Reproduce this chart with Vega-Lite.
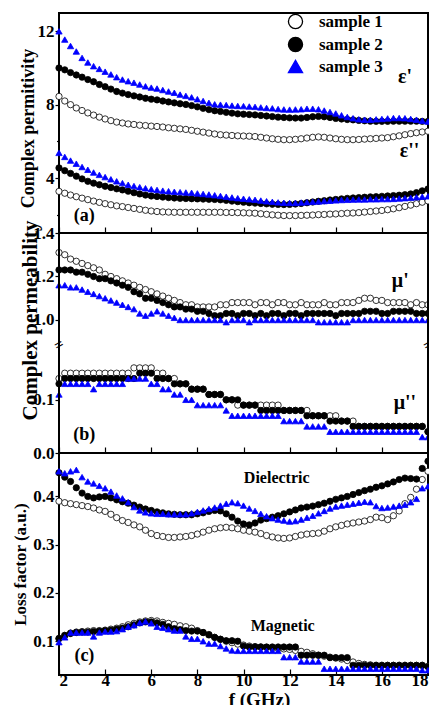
{
"$schema": "https://vega.github.io/schema/vega-lite/v6.json",
"background": "white",
"padding": {"left": 10, "top": 12, "right": 4, "bottom": 0},
"spacing": 0,
"bounds": "flush",
"config": {
  "font": "Liberation Serif",
  "concat": {"spacing": 0},
  "view": {"stroke": "black", "strokeWidth": 2},
  "axis": {"labelFont": "Liberation Serif", "labelFontWeight": "bold", "labelFontSize": 17, "labelColor": "black", "titleFont": "Liberation Serif", "titleFontWeight": "bold", "titleColor": "black", "domainColor": "black", "domainWidth": 2, "tickColor": "black", "tickWidth": 1.2, "grid": false, "labelOverlap": false},
  "text": {"font": "Liberation Serif", "fontWeight": "bold", "color": "black"}
},
"datasets": {
"a": [
{"f":2,"s":1,"v":8.45},{"f":2.25,"s":1,"v":8.2},{"f":2.5,"s":1,"v":8.0},{"f":2.75,"s":1,"v":7.82},{"f":3,"s":1,"v":7.68},{"f":3.25,"s":1,"v":7.55},{"f":3.5,"s":1,"v":7.43},{"f":3.75,"s":1,"v":7.32},{"f":4,"s":1,"v":7.22},{"f":4.25,"s":1,"v":7.13},{"f":4.5,"s":1,"v":7.05},{"f":4.75,"s":1,"v":7.0},{"f":5,"s":1,"v":6.95},{"f":5.25,"s":1,"v":6.92},{"f":5.5,"s":1,"v":6.88},{"f":5.75,"s":1,"v":6.86},{"f":6,"s":1,"v":6.83},{"f":6.25,"s":1,"v":6.81},{"f":6.5,"s":1,"v":6.78},{"f":6.75,"s":1,"v":6.74},{"f":7,"s":1,"v":6.71},{"f":7.25,"s":1,"v":6.68},{"f":7.5,"s":1,"v":6.65},{"f":7.75,"s":1,"v":6.6},{"f":8,"s":1,"v":6.55},{"f":8.25,"s":1,"v":6.5},{"f":8.5,"s":1,"v":6.45},{"f":8.75,"s":1,"v":6.4},{"f":9,"s":1,"v":6.36},{"f":9.25,"s":1,"v":6.34},{"f":9.5,"s":1,"v":6.32},{"f":9.75,"s":1,"v":6.3},{"f":10,"s":1,"v":6.29},{"f":10.25,"s":1,"v":6.28},{"f":10.5,"s":1,"v":6.26},{"f":10.75,"s":1,"v":6.22},{"f":11,"s":1,"v":6.18},{"f":11.25,"s":1,"v":6.14},{"f":11.5,"s":1,"v":6.11},{"f":11.75,"s":1,"v":6.09},{"f":12,"s":1,"v":6.09},{"f":12.25,"s":1,"v":6.11},{"f":12.5,"s":1,"v":6.14},{"f":12.75,"s":1,"v":6.18},{"f":13,"s":1,"v":6.22},{"f":13.25,"s":1,"v":6.24},{"f":13.5,"s":1,"v":6.22},{"f":13.75,"s":1,"v":6.18},{"f":14,"s":1,"v":6.14},{"f":14.25,"s":1,"v":6.11},{"f":14.5,"s":1,"v":6.09},{"f":14.75,"s":1,"v":6.09},{"f":15,"s":1,"v":6.1},{"f":15.25,"s":1,"v":6.12},{"f":15.5,"s":1,"v":6.14},{"f":15.75,"s":1,"v":6.16},{"f":16,"s":1,"v":6.18},{"f":16.25,"s":1,"v":6.2},{"f":16.5,"s":1,"v":6.25},{"f":16.75,"s":1,"v":6.3},{"f":17,"s":1,"v":6.36},{"f":17.25,"s":1,"v":6.42},{"f":17.5,"s":1,"v":6.47},{"f":17.75,"s":1,"v":6.51},{"f":18,"s":1,"v":6.55},
{"f":2,"s":1,"v":3.27},{"f":2.25,"s":1,"v":3.17},{"f":2.5,"s":1,"v":3.07},{"f":2.75,"s":1,"v":2.98},{"f":3,"s":1,"v":2.9},{"f":3.25,"s":1,"v":2.82},{"f":3.5,"s":1,"v":2.74},{"f":3.75,"s":1,"v":2.67},{"f":4,"s":1,"v":2.6},{"f":4.25,"s":1,"v":2.54},{"f":4.5,"s":1,"v":2.48},{"f":4.75,"s":1,"v":2.44},{"f":5,"s":1,"v":2.39},{"f":5.25,"s":1,"v":2.34},{"f":5.5,"s":1,"v":2.29},{"f":5.75,"s":1,"v":2.24},{"f":6,"s":1,"v":2.2},{"f":6.25,"s":1,"v":2.17},{"f":6.5,"s":1,"v":2.15},{"f":6.75,"s":1,"v":2.14},{"f":7,"s":1,"v":2.13},{"f":7.25,"s":1,"v":2.13},{"f":7.5,"s":1,"v":2.13},{"f":7.75,"s":1,"v":2.13},{"f":8,"s":1,"v":2.13},{"f":8.25,"s":1,"v":2.13},{"f":8.5,"s":1,"v":2.13},{"f":8.75,"s":1,"v":2.13},{"f":9,"s":1,"v":2.13},{"f":9.25,"s":1,"v":2.12},{"f":9.5,"s":1,"v":2.12},{"f":9.75,"s":1,"v":2.11},{"f":10,"s":1,"v":2.1},{"f":10.25,"s":1,"v":2.09},{"f":10.5,"s":1,"v":2.08},{"f":10.75,"s":1,"v":2.05},{"f":11,"s":1,"v":2.02},{"f":11.25,"s":1,"v":1.99},{"f":11.5,"s":1,"v":1.97},{"f":11.75,"s":1,"v":1.95},{"f":12,"s":1,"v":1.95},{"f":12.25,"s":1,"v":1.95},{"f":12.5,"s":1,"v":1.96},{"f":12.75,"s":1,"v":1.97},{"f":13,"s":1,"v":1.98},{"f":13.25,"s":1,"v":2.0},{"f":13.5,"s":1,"v":2.01},{"f":13.75,"s":1,"v":2.03},{"f":14,"s":1,"v":2.04},{"f":14.25,"s":1,"v":2.06},{"f":14.5,"s":1,"v":2.08},{"f":14.75,"s":1,"v":2.09},{"f":15,"s":1,"v":2.11},{"f":15.25,"s":1,"v":2.14},{"f":15.5,"s":1,"v":2.17},{"f":15.75,"s":1,"v":2.2},{"f":16,"s":1,"v":2.23},{"f":16.25,"s":1,"v":2.27},{"f":16.5,"s":1,"v":2.32},{"f":16.75,"s":1,"v":2.38},{"f":17,"s":1,"v":2.45},{"f":17.25,"s":1,"v":2.52},{"f":17.5,"s":1,"v":2.6},{"f":17.75,"s":1,"v":2.68},{"f":18,"s":1,"v":2.75},
{"f":2,"s":2,"v":10.0},{"f":2.25,"s":2,"v":9.9},{"f":2.5,"s":2,"v":9.75},{"f":2.75,"s":2,"v":9.62},{"f":3,"s":2,"v":9.5},{"f":3.25,"s":2,"v":9.37},{"f":3.5,"s":2,"v":9.25},{"f":3.75,"s":2,"v":9.1},{"f":4,"s":2,"v":8.98},{"f":4.25,"s":2,"v":8.85},{"f":4.5,"s":2,"v":8.72},{"f":4.75,"s":2,"v":8.63},{"f":5,"s":2,"v":8.55},{"f":5.25,"s":2,"v":8.48},{"f":5.5,"s":2,"v":8.42},{"f":5.75,"s":2,"v":8.35},{"f":6,"s":2,"v":8.3},{"f":6.25,"s":2,"v":8.26},{"f":6.5,"s":2,"v":8.2},{"f":6.75,"s":2,"v":8.15},{"f":7,"s":2,"v":8.1},{"f":7.25,"s":2,"v":8.05},{"f":7.5,"s":2,"v":8.01},{"f":7.75,"s":2,"v":7.95},{"f":8,"s":2,"v":7.88},{"f":8.25,"s":2,"v":7.8},{"f":8.5,"s":2,"v":7.73},{"f":8.75,"s":2,"v":7.67},{"f":9,"s":2,"v":7.63},{"f":9.25,"s":2,"v":7.58},{"f":9.5,"s":2,"v":7.54},{"f":9.75,"s":2,"v":7.5},{"f":10,"s":2,"v":7.48},{"f":10.25,"s":2,"v":7.46},{"f":10.5,"s":2,"v":7.44},{"f":10.75,"s":2,"v":7.41},{"f":11,"s":2,"v":7.38},{"f":11.25,"s":2,"v":7.35},{"f":11.5,"s":2,"v":7.32},{"f":11.75,"s":2,"v":7.3},{"f":12,"s":2,"v":7.28},{"f":12.25,"s":2,"v":7.27},{"f":12.5,"s":2,"v":7.27},{"f":12.75,"s":2,"v":7.3},{"f":13,"s":2,"v":7.34},{"f":13.25,"s":2,"v":7.36},{"f":13.5,"s":2,"v":7.34},{"f":13.75,"s":2,"v":7.3},{"f":14,"s":2,"v":7.25},{"f":14.25,"s":2,"v":7.22},{"f":14.5,"s":2,"v":7.19},{"f":14.75,"s":2,"v":7.17},{"f":15,"s":2,"v":7.14},{"f":15.25,"s":2,"v":7.12},{"f":15.5,"s":2,"v":7.1},{"f":15.75,"s":2,"v":7.09},{"f":16,"s":2,"v":7.09},{"f":16.25,"s":2,"v":7.09},{"f":16.5,"s":2,"v":7.1},{"f":16.75,"s":2,"v":7.1},{"f":17,"s":2,"v":7.1},{"f":17.25,"s":2,"v":7.1},{"f":17.5,"s":2,"v":7.1},{"f":17.75,"s":2,"v":7.09},{"f":18,"s":2,"v":7.09},
{"f":2,"s":2,"v":4.55},{"f":2.25,"s":2,"v":4.4},{"f":2.5,"s":2,"v":4.25},{"f":2.75,"s":2,"v":4.1},{"f":3,"s":2,"v":3.95},{"f":3.25,"s":2,"v":3.82},{"f":3.5,"s":2,"v":3.72},{"f":3.75,"s":2,"v":3.63},{"f":4,"s":2,"v":3.55},{"f":4.25,"s":2,"v":3.48},{"f":4.5,"s":2,"v":3.41},{"f":4.75,"s":2,"v":3.35},{"f":5,"s":2,"v":3.28},{"f":5.25,"s":2,"v":3.2},{"f":5.5,"s":2,"v":3.13},{"f":5.75,"s":2,"v":3.07},{"f":6,"s":2,"v":3.02},{"f":6.25,"s":2,"v":2.99},{"f":6.5,"s":2,"v":2.96},{"f":6.75,"s":2,"v":2.93},{"f":7,"s":2,"v":2.91},{"f":7.25,"s":2,"v":2.89},{"f":7.5,"s":2,"v":2.88},{"f":7.75,"s":2,"v":2.87},{"f":8,"s":2,"v":2.86},{"f":8.25,"s":2,"v":2.85},{"f":8.5,"s":2,"v":2.84},{"f":8.75,"s":2,"v":2.83},{"f":9,"s":2,"v":2.81},{"f":9.25,"s":2,"v":2.78},{"f":9.5,"s":2,"v":2.74},{"f":9.75,"s":2,"v":2.71},{"f":10,"s":2,"v":2.68},{"f":10.25,"s":2,"v":2.65},{"f":10.5,"s":2,"v":2.63},{"f":10.75,"s":2,"v":2.61},{"f":11,"s":2,"v":2.59},{"f":11.25,"s":2,"v":2.57},{"f":11.5,"s":2,"v":2.56},{"f":11.75,"s":2,"v":2.55},{"f":12,"s":2,"v":2.56},{"f":12.25,"s":2,"v":2.58},{"f":12.5,"s":2,"v":2.61},{"f":12.75,"s":2,"v":2.65},{"f":13,"s":2,"v":2.69},{"f":13.25,"s":2,"v":2.73},{"f":13.5,"s":2,"v":2.76},{"f":13.75,"s":2,"v":2.8},{"f":14,"s":2,"v":2.83},{"f":14.25,"s":2,"v":2.86},{"f":14.5,"s":2,"v":2.89},{"f":14.75,"s":2,"v":2.91},{"f":15,"s":2,"v":2.93},{"f":15.25,"s":2,"v":2.95},{"f":15.5,"s":2,"v":2.97},{"f":15.75,"s":2,"v":2.98},{"f":16,"s":2,"v":3.0},{"f":16.25,"s":2,"v":3.02},{"f":16.5,"s":2,"v":3.04},{"f":16.75,"s":2,"v":3.06},{"f":17,"s":2,"v":3.09},{"f":17.25,"s":2,"v":3.13},{"f":17.5,"s":2,"v":3.2},{"f":17.75,"s":2,"v":3.3},{"f":18,"s":2,"v":3.4},
{"f":2,"s":3,"v":12.0},{"f":2.25,"s":3,"v":11.55},{"f":2.5,"s":3,"v":11.2},{"f":2.75,"s":3,"v":10.9},{"f":3,"s":3,"v":10.55},{"f":3.25,"s":3,"v":10.3},{"f":3.5,"s":3,"v":10.1},{"f":3.75,"s":3,"v":9.95},{"f":4,"s":3,"v":9.8},{"f":4.25,"s":3,"v":9.65},{"f":4.5,"s":3,"v":9.5},{"f":4.75,"s":3,"v":9.37},{"f":5,"s":3,"v":9.28},{"f":5.25,"s":3,"v":9.2},{"f":5.5,"s":3,"v":9.1},{"f":5.75,"s":3,"v":9.0},{"f":6,"s":3,"v":8.93},{"f":6.25,"s":3,"v":8.88},{"f":6.5,"s":3,"v":8.8},{"f":6.75,"s":3,"v":8.72},{"f":7,"s":3,"v":8.65},{"f":7.25,"s":3,"v":8.55},{"f":7.5,"s":3,"v":8.48},{"f":7.75,"s":3,"v":8.4},{"f":8,"s":3,"v":8.3},{"f":8.25,"s":3,"v":8.2},{"f":8.5,"s":3,"v":8.1},{"f":8.75,"s":3,"v":8.02},{"f":9,"s":3,"v":8.0},{"f":9.25,"s":3,"v":7.98},{"f":9.5,"s":3,"v":7.95},{"f":9.75,"s":3,"v":7.93},{"f":10,"s":3,"v":7.92},{"f":10.25,"s":3,"v":7.9},{"f":10.5,"s":3,"v":7.88},{"f":10.75,"s":3,"v":7.85},{"f":11,"s":3,"v":7.82},{"f":11.25,"s":3,"v":7.8},{"f":11.5,"s":3,"v":7.76},{"f":11.75,"s":3,"v":7.74},{"f":12,"s":3,"v":7.73},{"f":12.25,"s":3,"v":7.74},{"f":12.5,"s":3,"v":7.75},{"f":12.75,"s":3,"v":7.78},{"f":13,"s":3,"v":7.78},{"f":13.25,"s":3,"v":7.75},{"f":13.5,"s":3,"v":7.68},{"f":13.75,"s":3,"v":7.6},{"f":14,"s":3,"v":7.52},{"f":14.25,"s":3,"v":7.42},{"f":14.5,"s":3,"v":7.33},{"f":14.75,"s":3,"v":7.26},{"f":15,"s":3,"v":7.2},{"f":15.25,"s":3,"v":7.18},{"f":15.5,"s":3,"v":7.18},{"f":15.75,"s":3,"v":7.2},{"f":16,"s":3,"v":7.22},{"f":16.25,"s":3,"v":7.25},{"f":16.5,"s":3,"v":7.27},{"f":16.75,"s":3,"v":7.27},{"f":17,"s":3,"v":7.26},{"f":17.25,"s":3,"v":7.22},{"f":17.5,"s":3,"v":7.18},{"f":17.75,"s":3,"v":7.12},{"f":18,"s":3,"v":7.08},
{"f":2,"s":3,"v":5.37},{"f":2.25,"s":3,"v":5.15},{"f":2.5,"s":3,"v":4.95},{"f":2.75,"s":3,"v":4.78},{"f":3,"s":3,"v":4.6},{"f":3.25,"s":3,"v":4.45},{"f":3.5,"s":3,"v":4.3},{"f":3.75,"s":3,"v":4.17},{"f":4,"s":3,"v":4.05},{"f":4.25,"s":3,"v":3.93},{"f":4.5,"s":3,"v":3.82},{"f":4.75,"s":3,"v":3.72},{"f":5,"s":3,"v":3.63},{"f":5.25,"s":3,"v":3.56},{"f":5.5,"s":3,"v":3.5},{"f":5.75,"s":3,"v":3.44},{"f":6,"s":3,"v":3.39},{"f":6.25,"s":3,"v":3.35},{"f":6.5,"s":3,"v":3.31},{"f":6.75,"s":3,"v":3.28},{"f":7,"s":3,"v":3.25},{"f":7.25,"s":3,"v":3.23},{"f":7.5,"s":3,"v":3.21},{"f":7.75,"s":3,"v":3.19},{"f":8,"s":3,"v":3.16},{"f":8.25,"s":3,"v":3.13},{"f":8.5,"s":3,"v":3.1},{"f":8.75,"s":3,"v":3.06},{"f":9,"s":3,"v":3.02},{"f":9.25,"s":3,"v":2.98},{"f":9.5,"s":3,"v":2.94},{"f":9.75,"s":3,"v":2.9},{"f":10,"s":3,"v":2.87},{"f":10.25,"s":3,"v":2.84},{"f":10.5,"s":3,"v":2.81},{"f":10.75,"s":3,"v":2.77},{"f":11,"s":3,"v":2.73},{"f":11.25,"s":3,"v":2.7},{"f":11.5,"s":3,"v":2.67},{"f":11.75,"s":3,"v":2.65},{"f":12,"s":3,"v":2.64},{"f":12.25,"s":3,"v":2.64},{"f":12.5,"s":3,"v":2.66},{"f":12.75,"s":3,"v":2.68},{"f":13,"s":3,"v":2.7},{"f":13.25,"s":3,"v":2.72},{"f":13.5,"s":3,"v":2.74},{"f":13.75,"s":3,"v":2.76},{"f":14,"s":3,"v":2.78},{"f":14.25,"s":3,"v":2.8},{"f":14.5,"s":3,"v":2.81},{"f":14.75,"s":3,"v":2.82},{"f":15,"s":3,"v":2.83},{"f":15.25,"s":3,"v":2.83},{"f":15.5,"s":3,"v":2.84},{"f":15.75,"s":3,"v":2.84},{"f":16,"s":3,"v":2.85},{"f":16.25,"s":3,"v":2.85},{"f":16.5,"s":3,"v":2.86},{"f":16.75,"s":3,"v":2.88},{"f":17,"s":3,"v":2.9},{"f":17.25,"s":3,"v":2.92},{"f":17.5,"s":3,"v":2.95},{"f":17.75,"s":3,"v":2.98},{"f":18,"s":3,"v":3.0}
],
"b1": [
{"f":2,"s":1,"v":1.31},{"f":2.25,"s":1,"v":1.3},{"f":2.5,"s":1,"v":1.28},{"f":2.75,"s":1,"v":1.27},{"f":3,"s":1,"v":1.26},{"f":3.25,"s":1,"v":1.25},{"f":3.5,"s":1,"v":1.24},{"f":3.75,"s":1,"v":1.23},{"f":4,"s":1,"v":1.21},{"f":4.25,"s":1,"v":1.2},{"f":4.5,"s":1,"v":1.19},{"f":4.75,"s":1,"v":1.18},{"f":5,"s":1,"v":1.17},{"f":5.25,"s":1,"v":1.16},{"f":5.5,"s":1,"v":1.15},{"f":5.75,"s":1,"v":1.14},{"f":6,"s":1,"v":1.13},{"f":6.25,"s":1,"v":1.12},{"f":6.5,"s":1,"v":1.11},{"f":6.75,"s":1,"v":1.1},{"f":7,"s":1,"v":1.09},{"f":7.25,"s":1,"v":1.08},{"f":7.5,"s":1,"v":1.07},{"f":7.75,"s":1,"v":1.07},{"f":8,"s":1,"v":1.06},{"f":8.25,"s":1,"v":1.06},{"f":8.5,"s":1,"v":1.06},{"f":8.75,"s":1,"v":1.06},{"f":9,"s":1,"v":1.07},{"f":9.25,"s":1,"v":1.07},{"f":9.5,"s":1,"v":1.08},{"f":9.75,"s":1,"v":1.08},{"f":10,"s":1,"v":1.08},{"f":10.25,"s":1,"v":1.08},{"f":10.5,"s":1,"v":1.07},{"f":10.75,"s":1,"v":1.08},{"f":11,"s":1,"v":1.08},{"f":11.25,"s":1,"v":1.07},{"f":11.5,"s":1,"v":1.08},{"f":11.75,"s":1,"v":1.08},{"f":12,"s":1,"v":1.07},{"f":12.25,"s":1,"v":1.07},{"f":12.5,"s":1,"v":1.08},{"f":12.75,"s":1,"v":1.07},{"f":13,"s":1,"v":1.07},{"f":13.25,"s":1,"v":1.07},{"f":13.5,"s":1,"v":1.08},{"f":13.75,"s":1,"v":1.07},{"f":14,"s":1,"v":1.07},{"f":14.25,"s":1,"v":1.08},{"f":14.5,"s":1,"v":1.08},{"f":14.75,"s":1,"v":1.08},{"f":15,"s":1,"v":1.09},{"f":15.25,"s":1,"v":1.1},{"f":15.5,"s":1,"v":1.1},{"f":15.75,"s":1,"v":1.09},{"f":16,"s":1,"v":1.09},{"f":16.25,"s":1,"v":1.08},{"f":16.5,"s":1,"v":1.08},{"f":16.75,"s":1,"v":1.08},{"f":17,"s":1,"v":1.08},{"f":17.25,"s":1,"v":1.07},{"f":17.5,"s":1,"v":1.08},{"f":17.75,"s":1,"v":1.07},{"f":18,"s":1,"v":1.07},
{"f":2,"s":2,"v":1.23},{"f":2.25,"s":2,"v":1.23},{"f":2.5,"s":2,"v":1.23},{"f":2.75,"s":2,"v":1.22},{"f":3,"s":2,"v":1.22},{"f":3.25,"s":2,"v":1.21},{"f":3.5,"s":2,"v":1.2},{"f":3.75,"s":2,"v":1.19},{"f":4,"s":2,"v":1.19},{"f":4.25,"s":2,"v":1.18},{"f":4.5,"s":2,"v":1.17},{"f":4.75,"s":2,"v":1.16},{"f":5,"s":2,"v":1.15},{"f":5.25,"s":2,"v":1.13},{"f":5.5,"s":2,"v":1.12},{"f":5.75,"s":2,"v":1.1},{"f":6,"s":2,"v":1.1},{"f":6.25,"s":2,"v":1.09},{"f":6.5,"s":2,"v":1.08},{"f":6.75,"s":2,"v":1.07},{"f":7,"s":2,"v":1.06},{"f":7.25,"s":2,"v":1.06},{"f":7.5,"s":2,"v":1.05},{"f":7.75,"s":2,"v":1.05},{"f":8,"s":2,"v":1.04},{"f":8.25,"s":2,"v":1.04},{"f":8.5,"s":2,"v":1.03},{"f":8.75,"s":2,"v":1.02},{"f":9,"s":2,"v":1.02},{"f":9.25,"s":2,"v":1.03},{"f":9.5,"s":2,"v":1.03},{"f":9.75,"s":2,"v":1.02},{"f":10,"s":2,"v":1.03},{"f":10.25,"s":2,"v":1.03},{"f":10.5,"s":2,"v":1.02},{"f":10.75,"s":2,"v":1.03},{"f":11,"s":2,"v":1.02},{"f":11.25,"s":2,"v":1.03},{"f":11.5,"s":2,"v":1.03},{"f":11.75,"s":2,"v":1.02},{"f":12,"s":2,"v":1.03},{"f":12.25,"s":2,"v":1.03},{"f":12.5,"s":2,"v":1.02},{"f":12.75,"s":2,"v":1.03},{"f":13,"s":2,"v":1.03},{"f":13.25,"s":2,"v":1.03},{"f":13.5,"s":2,"v":1.03},{"f":13.75,"s":2,"v":1.03},{"f":14,"s":2,"v":1.02},{"f":14.25,"s":2,"v":1.03},{"f":14.5,"s":2,"v":1.03},{"f":14.75,"s":2,"v":1.03},{"f":15,"s":2,"v":1.03},{"f":15.25,"s":2,"v":1.04},{"f":15.5,"s":2,"v":1.04},{"f":15.75,"s":2,"v":1.04},{"f":16,"s":2,"v":1.03},{"f":16.25,"s":2,"v":1.03},{"f":16.5,"s":2,"v":1.04},{"f":16.75,"s":2,"v":1.04},{"f":17,"s":2,"v":1.04},{"f":17.25,"s":2,"v":1.04},{"f":17.5,"s":2,"v":1.03},{"f":17.75,"s":2,"v":1.03},{"f":18,"s":2,"v":1.03},
{"f":2,"s":3,"v":1.16},{"f":2.25,"s":3,"v":1.16},{"f":2.5,"s":3,"v":1.15},{"f":2.75,"s":3,"v":1.15},{"f":3,"s":3,"v":1.14},{"f":3.25,"s":3,"v":1.13},{"f":3.5,"s":3,"v":1.12},{"f":3.75,"s":3,"v":1.11},{"f":4,"s":3,"v":1.1},{"f":4.25,"s":3,"v":1.09},{"f":4.5,"s":3,"v":1.08},{"f":4.75,"s":3,"v":1.07},{"f":5,"s":3,"v":1.06},{"f":5.25,"s":3,"v":1.05},{"f":5.5,"s":3,"v":1.03},{"f":5.75,"s":3,"v":1.02},{"f":6,"s":3,"v":1.03},{"f":6.25,"s":3,"v":1.04},{"f":6.5,"s":3,"v":1.03},{"f":6.75,"s":3,"v":1.02},{"f":7,"s":3,"v":1.01},{"f":7.25,"s":3,"v":1.0},{"f":7.5,"s":3,"v":1.0},{"f":7.75,"s":3,"v":1.0},{"f":8,"s":3,"v":1.0},{"f":8.25,"s":3,"v":1.0},{"f":8.5,"s":3,"v":1.0},{"f":8.75,"s":3,"v":1.0},{"f":9,"s":3,"v":1.0},{"f":9.25,"s":3,"v":0.99},{"f":9.5,"s":3,"v":1.0},{"f":9.75,"s":3,"v":1.0},{"f":10,"s":3,"v":1.0},{"f":10.25,"s":3,"v":0.99},{"f":10.5,"s":3,"v":1.0},{"f":10.75,"s":3,"v":1.0},{"f":11,"s":3,"v":1.0},{"f":11.25,"s":3,"v":1.0},{"f":11.5,"s":3,"v":1.0},{"f":11.75,"s":3,"v":1.0},{"f":12,"s":3,"v":1.0},{"f":12.25,"s":3,"v":1.0},{"f":12.5,"s":3,"v":1.0},{"f":12.75,"s":3,"v":1.0},{"f":13,"s":3,"v":1.0},{"f":13.25,"s":3,"v":0.99},{"f":13.5,"s":3,"v":0.99},{"f":13.75,"s":3,"v":0.99},{"f":14,"s":3,"v":0.99},{"f":14.25,"s":3,"v":0.99},{"f":14.5,"s":3,"v":0.99},{"f":14.75,"s":3,"v":1.0},{"f":15,"s":3,"v":1.0},{"f":15.25,"s":3,"v":1.0},{"f":15.5,"s":3,"v":1.0},{"f":15.75,"s":3,"v":1.0},{"f":16,"s":3,"v":1.0},{"f":16.25,"s":3,"v":1.0},{"f":16.5,"s":3,"v":1.0},{"f":16.75,"s":3,"v":1.0},{"f":17,"s":3,"v":1.0},{"f":17.25,"s":3,"v":1.0},{"f":17.5,"s":3,"v":1.0},{"f":17.75,"s":3,"v":1.0},{"f":18,"s":3,"v":1.0}
],
"b2": [
{"f":2,"s":1,"v":0.14},{"f":2.25,"s":1,"v":0.15},{"f":2.5,"s":1,"v":0.15},{"f":2.75,"s":1,"v":0.15},{"f":3,"s":1,"v":0.15},{"f":3.25,"s":1,"v":0.15},{"f":3.5,"s":1,"v":0.15},{"f":3.75,"s":1,"v":0.15},{"f":4,"s":1,"v":0.15},{"f":4.25,"s":1,"v":0.15},{"f":4.5,"s":1,"v":0.15},{"f":4.75,"s":1,"v":0.15},{"f":5,"s":1,"v":0.15},{"f":5.25,"s":1,"v":0.16},{"f":5.5,"s":1,"v":0.16},{"f":5.75,"s":1,"v":0.16},{"f":6,"s":1,"v":0.16},{"f":6.25,"s":1,"v":0.15},{"f":6.5,"s":1,"v":0.15},{"f":6.75,"s":1,"v":0.14},{"f":7,"s":1,"v":0.14},{"f":7.25,"s":1,"v":0.13},{"f":7.5,"s":1,"v":0.13},{"f":7.75,"s":1,"v":0.12},{"f":8,"s":1,"v":0.12},{"f":8.25,"s":1,"v":0.12},{"f":8.5,"s":1,"v":0.11},{"f":8.75,"s":1,"v":0.11},{"f":9,"s":1,"v":0.11},{"f":9.25,"s":1,"v":0.1},{"f":9.5,"s":1,"v":0.1},{"f":9.75,"s":1,"v":0.09},{"f":10,"s":1,"v":0.09},{"f":10.25,"s":1,"v":0.09},{"f":10.5,"s":1,"v":0.09},{"f":10.75,"s":1,"v":0.09},{"f":11,"s":1,"v":0.09},{"f":11.25,"s":1,"v":0.09},{"f":11.5,"s":1,"v":0.09},{"f":11.75,"s":1,"v":0.08},{"f":12,"s":1,"v":0.08},{"f":12.25,"s":1,"v":0.08},{"f":12.5,"s":1,"v":0.08},{"f":12.75,"s":1,"v":0.08},{"f":13,"s":1,"v":0.07},{"f":13.25,"s":1,"v":0.07},{"f":13.5,"s":1,"v":0.07},{"f":13.75,"s":1,"v":0.07},{"f":14,"s":1,"v":0.07},{"f":14.25,"s":1,"v":0.06},{"f":14.5,"s":1,"v":0.06},{"f":14.75,"s":1,"v":0.06},{"f":15,"s":1,"v":0.05},{"f":15.25,"s":1,"v":0.05},{"f":15.5,"s":1,"v":0.05},{"f":15.75,"s":1,"v":0.05},{"f":16,"s":1,"v":0.05},{"f":16.25,"s":1,"v":0.05},{"f":16.5,"s":1,"v":0.05},{"f":16.75,"s":1,"v":0.05},{"f":17,"s":1,"v":0.05},{"f":17.25,"s":1,"v":0.05},{"f":17.5,"s":1,"v":0.05},{"f":17.75,"s":1,"v":0.05},{"f":18,"s":1,"v":0.04},
{"f":2,"s":2,"v":0.13},{"f":2.25,"s":2,"v":0.14},{"f":2.5,"s":2,"v":0.14},{"f":2.75,"s":2,"v":0.14},{"f":3,"s":2,"v":0.14},{"f":3.25,"s":2,"v":0.14},{"f":3.5,"s":2,"v":0.14},{"f":3.75,"s":2,"v":0.14},{"f":4,"s":2,"v":0.14},{"f":4.25,"s":2,"v":0.14},{"f":4.5,"s":2,"v":0.14},{"f":4.75,"s":2,"v":0.14},{"f":5,"s":2,"v":0.14},{"f":5.25,"s":2,"v":0.14},{"f":5.5,"s":2,"v":0.15},{"f":5.75,"s":2,"v":0.15},{"f":6,"s":2,"v":0.15},{"f":6.25,"s":2,"v":0.14},{"f":6.5,"s":2,"v":0.14},{"f":6.75,"s":2,"v":0.14},{"f":7,"s":2,"v":0.13},{"f":7.25,"s":2,"v":0.13},{"f":7.5,"s":2,"v":0.13},{"f":7.75,"s":2,"v":0.12},{"f":8,"s":2,"v":0.12},{"f":8.25,"s":2,"v":0.12},{"f":8.5,"s":2,"v":0.11},{"f":8.75,"s":2,"v":0.11},{"f":9,"s":2,"v":0.11},{"f":9.25,"s":2,"v":0.1},{"f":9.5,"s":2,"v":0.1},{"f":9.75,"s":2,"v":0.1},{"f":10,"s":2,"v":0.09},{"f":10.25,"s":2,"v":0.09},{"f":10.5,"s":2,"v":0.09},{"f":10.75,"s":2,"v":0.08},{"f":11,"s":2,"v":0.08},{"f":11.25,"s":2,"v":0.08},{"f":11.5,"s":2,"v":0.08},{"f":11.75,"s":2,"v":0.08},{"f":12,"s":2,"v":0.08},{"f":12.25,"s":2,"v":0.08},{"f":12.5,"s":2,"v":0.08},{"f":12.75,"s":2,"v":0.07},{"f":13,"s":2,"v":0.07},{"f":13.25,"s":2,"v":0.07},{"f":13.5,"s":2,"v":0.07},{"f":13.75,"s":2,"v":0.06},{"f":14,"s":2,"v":0.06},{"f":14.25,"s":2,"v":0.06},{"f":14.5,"s":2,"v":0.06},{"f":14.75,"s":2,"v":0.05},{"f":15,"s":2,"v":0.05},{"f":15.25,"s":2,"v":0.05},{"f":15.5,"s":2,"v":0.05},{"f":15.75,"s":2,"v":0.05},{"f":16,"s":2,"v":0.05},{"f":16.25,"s":2,"v":0.05},{"f":16.5,"s":2,"v":0.05},{"f":16.75,"s":2,"v":0.05},{"f":17,"s":2,"v":0.05},{"f":17.25,"s":2,"v":0.05},{"f":17.5,"s":2,"v":0.05},{"f":17.75,"s":2,"v":0.05},{"f":18,"s":2,"v":0.04},
{"f":2,"s":3,"v":0.11},{"f":2.25,"s":3,"v":0.13},{"f":2.5,"s":3,"v":0.13},{"f":2.75,"s":3,"v":0.13},{"f":3,"s":3,"v":0.13},{"f":3.25,"s":3,"v":0.13},{"f":3.5,"s":3,"v":0.12},{"f":3.75,"s":3,"v":0.13},{"f":4,"s":3,"v":0.13},{"f":4.25,"s":3,"v":0.13},{"f":4.5,"s":3,"v":0.13},{"f":4.75,"s":3,"v":0.13},{"f":5,"s":3,"v":0.14},{"f":5.25,"s":3,"v":0.14},{"f":5.5,"s":3,"v":0.14},{"f":5.75,"s":3,"v":0.14},{"f":6,"s":3,"v":0.13},{"f":6.25,"s":3,"v":0.13},{"f":6.5,"s":3,"v":0.12},{"f":6.75,"s":3,"v":0.12},{"f":7,"s":3,"v":0.11},{"f":7.25,"s":3,"v":0.11},{"f":7.5,"s":3,"v":0.1},{"f":7.75,"s":3,"v":0.1},{"f":8,"s":3,"v":0.09},{"f":8.25,"s":3,"v":0.09},{"f":8.5,"s":3,"v":0.09},{"f":8.75,"s":3,"v":0.09},{"f":9,"s":3,"v":0.09},{"f":9.25,"s":3,"v":0.08},{"f":9.5,"s":3,"v":0.07},{"f":9.75,"s":3,"v":0.07},{"f":10,"s":3,"v":0.07},{"f":10.25,"s":3,"v":0.07},{"f":10.5,"s":3,"v":0.07},{"f":10.75,"s":3,"v":0.07},{"f":11,"s":3,"v":0.07},{"f":11.25,"s":3,"v":0.07},{"f":11.5,"s":3,"v":0.07},{"f":11.75,"s":3,"v":0.06},{"f":12,"s":3,"v":0.06},{"f":12.25,"s":3,"v":0.06},{"f":12.5,"s":3,"v":0.06},{"f":12.75,"s":3,"v":0.05},{"f":13,"s":3,"v":0.05},{"f":13.25,"s":3,"v":0.05},{"f":13.5,"s":3,"v":0.05},{"f":13.75,"s":3,"v":0.04},{"f":14,"s":3,"v":0.04},{"f":14.25,"s":3,"v":0.04},{"f":14.5,"s":3,"v":0.04},{"f":14.75,"s":3,"v":0.04},{"f":15,"s":3,"v":0.04},{"f":15.25,"s":3,"v":0.04},{"f":15.5,"s":3,"v":0.04},{"f":15.75,"s":3,"v":0.04},{"f":16,"s":3,"v":0.04},{"f":16.25,"s":3,"v":0.04},{"f":16.5,"s":3,"v":0.04},{"f":16.75,"s":3,"v":0.04},{"f":17,"s":3,"v":0.04},{"f":17.25,"s":3,"v":0.04},{"f":17.5,"s":3,"v":0.04},{"f":17.75,"s":3,"v":0.03},{"f":18,"s":3,"v":0.03}
],
"c": [
{"f":2,"s":1,"v":0.39},{"f":2.25,"s":1,"v":0.387},{"f":2.5,"s":1,"v":0.385},{"f":2.75,"s":1,"v":0.383},{"f":3,"s":1,"v":0.381},{"f":3.25,"s":1,"v":0.379},{"f":3.5,"s":1,"v":0.376},{"f":3.75,"s":1,"v":0.372},{"f":4,"s":1,"v":0.369},{"f":4.25,"s":1,"v":0.363},{"f":4.5,"s":1,"v":0.356},{"f":4.75,"s":1,"v":0.35},{"f":5,"s":1,"v":0.346},{"f":5.25,"s":1,"v":0.341},{"f":5.5,"s":1,"v":0.337},{"f":5.75,"s":1,"v":0.33},{"f":6,"s":1,"v":0.323},{"f":6.25,"s":1,"v":0.319},{"f":6.5,"s":1,"v":0.317},{"f":6.75,"s":1,"v":0.315},{"f":7,"s":1,"v":0.315},{"f":7.25,"s":1,"v":0.316},{"f":7.5,"s":1,"v":0.317},{"f":7.75,"s":1,"v":0.319},{"f":8,"s":1,"v":0.322},{"f":8.25,"s":1,"v":0.326},{"f":8.5,"s":1,"v":0.33},{"f":8.75,"s":1,"v":0.333},{"f":9,"s":1,"v":0.335},{"f":9.25,"s":1,"v":0.336},{"f":9.5,"s":1,"v":0.335},{"f":9.75,"s":1,"v":0.333},{"f":10,"s":1,"v":0.33},{"f":10.25,"s":1,"v":0.328},{"f":10.5,"s":1,"v":0.326},{"f":10.75,"s":1,"v":0.323},{"f":11,"s":1,"v":0.319},{"f":11.25,"s":1,"v":0.316},{"f":11.5,"s":1,"v":0.314},{"f":11.75,"s":1,"v":0.313},{"f":12,"s":1,"v":0.314},{"f":12.25,"s":1,"v":0.317},{"f":12.5,"s":1,"v":0.32},{"f":12.75,"s":1,"v":0.322},{"f":13,"s":1,"v":0.323},{"f":13.25,"s":1,"v":0.324},{"f":13.5,"s":1,"v":0.328},{"f":13.75,"s":1,"v":0.333},{"f":14,"s":1,"v":0.337},{"f":14.25,"s":1,"v":0.34},{"f":14.5,"s":1,"v":0.343},{"f":14.75,"s":1,"v":0.345},{"f":15,"s":1,"v":0.347},{"f":15.25,"s":1,"v":0.349},{"f":15.5,"s":1,"v":0.352},{"f":15.75,"s":1,"v":0.357},{"f":16,"s":1,"v":0.356},{"f":16.25,"s":1,"v":0.352},{"f":16.5,"s":1,"v":0.36},{"f":16.75,"s":1,"v":0.37},{"f":17,"s":1,"v":0.385},{"f":17.25,"s":1,"v":0.398},{"f":17.5,"s":1,"v":0.415},{"f":17.75,"s":1,"v":0.435},{"f":18,"s":1,"v":0.452},
{"f":2,"s":1,"v":0.105},{"f":2.25,"s":1,"v":0.112},{"f":2.5,"s":1,"v":0.117},{"f":2.75,"s":1,"v":0.119},{"f":3,"s":1,"v":0.12},{"f":3.25,"s":1,"v":0.121},{"f":3.5,"s":1,"v":0.122},{"f":3.75,"s":1,"v":0.122},{"f":4,"s":1,"v":0.123},{"f":4.25,"s":1,"v":0.125},{"f":4.5,"s":1,"v":0.127},{"f":4.75,"s":1,"v":0.13},{"f":5,"s":1,"v":0.134},{"f":5.25,"s":1,"v":0.137},{"f":5.5,"s":1,"v":0.14},{"f":5.75,"s":1,"v":0.142},{"f":6,"s":1,"v":0.143},{"f":6.25,"s":1,"v":0.142},{"f":6.5,"s":1,"v":0.139},{"f":6.75,"s":1,"v":0.137},{"f":7,"s":1,"v":0.135},{"f":7.25,"s":1,"v":0.132},{"f":7.5,"s":1,"v":0.13},{"f":7.75,"s":1,"v":0.127},{"f":8,"s":1,"v":0.122},{"f":8.25,"s":1,"v":0.118},{"f":8.5,"s":1,"v":0.114},{"f":8.75,"s":1,"v":0.108},{"f":9,"s":1,"v":0.104},{"f":9.25,"s":1,"v":0.1},{"f":9.5,"s":1,"v":0.097},{"f":9.75,"s":1,"v":0.094},{"f":10,"s":1,"v":0.092},{"f":10.25,"s":1,"v":0.09},{"f":10.5,"s":1,"v":0.089},{"f":10.75,"s":1,"v":0.088},{"f":11,"s":1,"v":0.087},{"f":11.25,"s":1,"v":0.086},{"f":11.5,"s":1,"v":0.085},{"f":11.75,"s":1,"v":0.084},{"f":12,"s":1,"v":0.083},{"f":12.25,"s":1,"v":0.081},{"f":12.5,"s":1,"v":0.079},{"f":12.75,"s":1,"v":0.077},{"f":13,"s":1,"v":0.074},{"f":13.25,"s":1,"v":0.071},{"f":13.5,"s":1,"v":0.069},{"f":13.75,"s":1,"v":0.067},{"f":14,"s":1,"v":0.065},{"f":14.25,"s":1,"v":0.063},{"f":14.5,"s":1,"v":0.06},{"f":14.75,"s":1,"v":0.057},{"f":15,"s":1,"v":0.054},{"f":15.25,"s":1,"v":0.052},{"f":15.5,"s":1,"v":0.051},{"f":15.75,"s":1,"v":0.05},{"f":16,"s":1,"v":0.05},{"f":16.25,"s":1,"v":0.05},{"f":16.5,"s":1,"v":0.05},{"f":16.75,"s":1,"v":0.05},{"f":17,"s":1,"v":0.05},{"f":17.25,"s":1,"v":0.05},{"f":17.5,"s":1,"v":0.05},{"f":17.75,"s":1,"v":0.05},{"f":18,"s":1,"v":0.048},
{"f":2,"s":2,"v":0.449},{"f":2.25,"s":2,"v":0.44},{"f":2.5,"s":2,"v":0.431},{"f":2.75,"s":2,"v":0.418},{"f":3,"s":2,"v":0.407},{"f":3.25,"s":2,"v":0.4},{"f":3.5,"s":2,"v":0.397},{"f":3.75,"s":2,"v":0.399},{"f":4,"s":2,"v":0.4},{"f":4.25,"s":2,"v":0.397},{"f":4.5,"s":2,"v":0.393},{"f":4.75,"s":2,"v":0.389},{"f":5,"s":2,"v":0.386},{"f":5.25,"s":2,"v":0.382},{"f":5.5,"s":2,"v":0.378},{"f":5.75,"s":2,"v":0.374},{"f":6,"s":2,"v":0.371},{"f":6.25,"s":2,"v":0.368},{"f":6.5,"s":2,"v":0.366},{"f":6.75,"s":2,"v":0.364},{"f":7,"s":2,"v":0.363},{"f":7.25,"s":2,"v":0.362},{"f":7.5,"s":2,"v":0.362},{"f":7.75,"s":2,"v":0.362},{"f":8,"s":2,"v":0.364},{"f":8.25,"s":2,"v":0.366},{"f":8.5,"s":2,"v":0.369},{"f":8.75,"s":2,"v":0.371},{"f":9,"s":2,"v":0.37},{"f":9.25,"s":2,"v":0.364},{"f":9.5,"s":2,"v":0.357},{"f":9.75,"s":2,"v":0.349},{"f":10,"s":2,"v":0.343},{"f":10.25,"s":2,"v":0.341},{"f":10.5,"s":2,"v":0.345},{"f":10.75,"s":2,"v":0.351},{"f":11,"s":2,"v":0.354},{"f":11.25,"s":2,"v":0.357},{"f":11.5,"s":2,"v":0.36},{"f":11.75,"s":2,"v":0.364},{"f":12,"s":2,"v":0.368},{"f":12.25,"s":2,"v":0.372},{"f":12.5,"s":2,"v":0.376},{"f":12.75,"s":2,"v":0.378},{"f":13,"s":2,"v":0.38},{"f":13.25,"s":2,"v":0.383},{"f":13.5,"s":2,"v":0.386},{"f":13.75,"s":2,"v":0.39},{"f":14,"s":2,"v":0.394},{"f":14.25,"s":2,"v":0.397},{"f":14.5,"s":2,"v":0.4},{"f":14.75,"s":2,"v":0.404},{"f":15,"s":2,"v":0.408},{"f":15.25,"s":2,"v":0.412},{"f":15.5,"s":2,"v":0.415},{"f":15.75,"s":2,"v":0.419},{"f":16,"s":2,"v":0.422},{"f":16.25,"s":2,"v":0.426},{"f":16.5,"s":2,"v":0.43},{"f":16.75,"s":2,"v":0.435},{"f":17,"s":2,"v":0.438},{"f":17.25,"s":2,"v":0.437},{"f":17.5,"s":2,"v":0.436},{"f":17.75,"s":2,"v":0.458},{"f":18,"s":2,"v":0.473},
{"f":2,"s":2,"v":0.106},{"f":2.25,"s":2,"v":0.112},{"f":2.5,"s":2,"v":0.116},{"f":2.75,"s":2,"v":0.118},{"f":3,"s":2,"v":0.119},{"f":3.25,"s":2,"v":0.119},{"f":3.5,"s":2,"v":0.12},{"f":3.75,"s":2,"v":0.121},{"f":4,"s":2,"v":0.122},{"f":4.25,"s":2,"v":0.123},{"f":4.5,"s":2,"v":0.125},{"f":4.75,"s":2,"v":0.127},{"f":5,"s":2,"v":0.13},{"f":5.25,"s":2,"v":0.134},{"f":5.5,"s":2,"v":0.138},{"f":5.75,"s":2,"v":0.14},{"f":6,"s":2,"v":0.14},{"f":6.25,"s":2,"v":0.138},{"f":6.5,"s":2,"v":0.135},{"f":6.75,"s":2,"v":0.13},{"f":7,"s":2,"v":0.126},{"f":7.25,"s":2,"v":0.124},{"f":7.5,"s":2,"v":0.122},{"f":7.75,"s":2,"v":0.121},{"f":8,"s":2,"v":0.121},{"f":8.25,"s":2,"v":0.118},{"f":8.5,"s":2,"v":0.113},{"f":8.75,"s":2,"v":0.108},{"f":9,"s":2,"v":0.104},{"f":9.25,"s":2,"v":0.101},{"f":9.5,"s":2,"v":0.101},{"f":9.75,"s":2,"v":0.1},{"f":10,"s":2,"v":0.09},{"f":10.25,"s":2,"v":0.088},{"f":10.5,"s":2,"v":0.088},{"f":10.75,"s":2,"v":0.088},{"f":11,"s":2,"v":0.088},{"f":11.25,"s":2,"v":0.088},{"f":11.5,"s":2,"v":0.088},{"f":11.75,"s":2,"v":0.088},{"f":12,"s":2,"v":0.088},{"f":12.25,"s":2,"v":0.088},{"f":12.5,"s":2,"v":0.071},{"f":12.75,"s":2,"v":0.071},{"f":13,"s":2,"v":0.071},{"f":13.25,"s":2,"v":0.071},{"f":13.5,"s":2,"v":0.071},{"f":13.75,"s":2,"v":0.066},{"f":14,"s":2,"v":0.066},{"f":14.25,"s":2,"v":0.066},{"f":14.5,"s":2,"v":0.066},{"f":14.75,"s":2,"v":0.05},{"f":15,"s":2,"v":0.05},{"f":15.25,"s":2,"v":0.05},{"f":15.5,"s":2,"v":0.05},{"f":15.75,"s":2,"v":0.05},{"f":16,"s":2,"v":0.05},{"f":16.25,"s":2,"v":0.05},{"f":16.5,"s":2,"v":0.05},{"f":16.75,"s":2,"v":0.05},{"f":17,"s":2,"v":0.05},{"f":17.25,"s":2,"v":0.05},{"f":17.5,"s":2,"v":0.05},{"f":17.75,"s":2,"v":0.05},{"f":18,"s":2,"v":0.047},
{"f":2,"s":3,"v":0.452},{"f":2.25,"s":3,"v":0.448},{"f":2.5,"s":3,"v":0.452},{"f":2.75,"s":3,"v":0.455},{"f":3,"s":3,"v":0.44},{"f":3.25,"s":3,"v":0.431},{"f":3.5,"s":3,"v":0.427},{"f":3.75,"s":3,"v":0.422},{"f":4,"s":3,"v":0.417},{"f":4.25,"s":3,"v":0.41},{"f":4.5,"s":3,"v":0.402},{"f":4.75,"s":3,"v":0.396},{"f":5,"s":3,"v":0.388},{"f":5.25,"s":3,"v":0.378},{"f":5.5,"s":3,"v":0.371},{"f":5.75,"s":3,"v":0.367},{"f":6,"s":3,"v":0.365},{"f":6.25,"s":3,"v":0.364},{"f":6.5,"s":3,"v":0.364},{"f":6.75,"s":3,"v":0.363},{"f":7,"s":3,"v":0.363},{"f":7.25,"s":3,"v":0.363},{"f":7.5,"s":3,"v":0.363},{"f":7.75,"s":3,"v":0.365},{"f":8,"s":3,"v":0.368},{"f":8.25,"s":3,"v":0.371},{"f":8.5,"s":3,"v":0.374},{"f":8.75,"s":3,"v":0.377},{"f":9,"s":3,"v":0.381},{"f":9.25,"s":3,"v":0.385},{"f":9.5,"s":3,"v":0.388},{"f":9.75,"s":3,"v":0.386},{"f":10,"s":3,"v":0.381},{"f":10.25,"s":3,"v":0.375},{"f":10.5,"s":3,"v":0.37},{"f":10.75,"s":3,"v":0.364},{"f":11,"s":3,"v":0.359},{"f":11.25,"s":3,"v":0.355},{"f":11.5,"s":3,"v":0.352},{"f":11.75,"s":3,"v":0.35},{"f":12,"s":3,"v":0.348},{"f":12.25,"s":3,"v":0.349},{"f":12.5,"s":3,"v":0.352},{"f":12.75,"s":3,"v":0.356},{"f":13,"s":3,"v":0.36},{"f":13.25,"s":3,"v":0.365},{"f":13.5,"s":3,"v":0.37},{"f":13.75,"s":3,"v":0.375},{"f":14,"s":3,"v":0.379},{"f":14.25,"s":3,"v":0.381},{"f":14.5,"s":3,"v":0.383},{"f":14.75,"s":3,"v":0.385},{"f":15,"s":3,"v":0.387},{"f":15.25,"s":3,"v":0.389},{"f":15.5,"s":3,"v":0.388},{"f":15.75,"s":3,"v":0.38},{"f":16,"s":3,"v":0.376},{"f":16.25,"s":3,"v":0.377},{"f":16.5,"s":3,"v":0.379},{"f":16.75,"s":3,"v":0.381},{"f":17,"s":3,"v":0.383},{"f":17.25,"s":3,"v":0.388},{"f":17.5,"s":3,"v":0.395},{"f":17.75,"s":3,"v":0.417},{"f":18,"s":3,"v":0.421},
{"f":2,"s":3,"v":0.098},{"f":2.25,"s":3,"v":0.108},{"f":2.5,"s":3,"v":0.118},{"f":2.75,"s":3,"v":0.118},{"f":3,"s":3,"v":0.118},{"f":3.25,"s":3,"v":0.118},{"f":3.5,"s":3,"v":0.11},{"f":3.75,"s":3,"v":0.118},{"f":4,"s":3,"v":0.12},{"f":4.25,"s":3,"v":0.12},{"f":4.5,"s":3,"v":0.121},{"f":4.75,"s":3,"v":0.125},{"f":5,"s":3,"v":0.13},{"f":5.25,"s":3,"v":0.133},{"f":5.5,"s":3,"v":0.138},{"f":5.75,"s":3,"v":0.141},{"f":6,"s":3,"v":0.137},{"f":6.25,"s":3,"v":0.13},{"f":6.5,"s":3,"v":0.128},{"f":6.75,"s":3,"v":0.125},{"f":7,"s":3,"v":0.122},{"f":7.25,"s":3,"v":0.122},{"f":7.5,"s":3,"v":0.11},{"f":7.75,"s":3,"v":0.105},{"f":8,"s":3,"v":0.105},{"f":8.25,"s":3,"v":0.1},{"f":8.5,"s":3,"v":0.095},{"f":8.75,"s":3,"v":0.095},{"f":9,"s":3,"v":0.09},{"f":9.25,"s":3,"v":0.085},{"f":9.5,"s":3,"v":0.081},{"f":9.75,"s":3,"v":0.08},{"f":10,"s":3,"v":0.08},{"f":10.25,"s":3,"v":0.08},{"f":10.5,"s":3,"v":0.08},{"f":10.75,"s":3,"v":0.08},{"f":11,"s":3,"v":0.08},{"f":11.25,"s":3,"v":0.08},{"f":11.5,"s":3,"v":0.08},{"f":11.75,"s":3,"v":0.067},{"f":12,"s":3,"v":0.067},{"f":12.25,"s":3,"v":0.067},{"f":12.5,"s":3,"v":0.058},{"f":12.75,"s":3,"v":0.058},{"f":13,"s":3,"v":0.058},{"f":13.25,"s":3,"v":0.058},{"f":13.5,"s":3,"v":0.043},{"f":13.75,"s":3,"v":0.043},{"f":14,"s":3,"v":0.043},{"f":14.25,"s":3,"v":0.043},{"f":14.5,"s":3,"v":0.043},{"f":14.75,"s":3,"v":0.043},{"f":15,"s":3,"v":0.043},{"f":15.25,"s":3,"v":0.043},{"f":15.5,"s":3,"v":0.043},{"f":15.75,"s":3,"v":0.043},{"f":16,"s":3,"v":0.043},{"f":16.25,"s":3,"v":0.043},{"f":16.5,"s":3,"v":0.043},{"f":16.75,"s":3,"v":0.043},{"f":17,"s":3,"v":0.043},{"f":17.25,"s":3,"v":0.043},{"f":17.5,"s":3,"v":0.043},{"f":17.75,"s":3,"v":0.04},{"f":18,"s":3,"v":0.04}
]
},
"vconcat": [
{
 "width": 369, "height": 220,
 "data": {"name": "a"},
 "layer": [
  {"mark": {"type": "point", "filled": true, "size": 40, "strokeWidth": 0.8, "opacity": 1},
   "encoding": {
    "x": {"field": "f", "type": "quantitative", "scale": {"domain": [2, 18], "nice": false}, "axis": {"values": [2,3,4,5,6,7,8,9,10,11,12,13,14,15,16,17,18], "labels": false, "title": null, "domain": false, "tickSize": {"condition": {"test": "datum.value % 2 == 0", "value": -6}, "value": -3}}},
    "y": {"field": "v", "type": "quantitative", "scale": {"domain": [1, 13], "nice": false}, "axis": {"values": [2,4,6,8,10,12], "labelExpr": "datum.value % 4 == 0 ? datum.label : ''", "domain": false, "labelOverlap": false, "tickSize": {"condition": {"test": "datum.value % 4 == 0", "value": 4}, "value": 2.5}, "labelPadding": 1, "title": "Complex permitivity", "titleFontSize": 18, "titleX": -22, "titleY": 115}},
    "shape": {"field": "s", "type": "nominal", "scale": {"domain": [1, 2, 3], "range": ["circle", "circle", "triangle-up"]}, "legend": {"orient": "none", "legendX": 228, "legendY": 0, "title": null, "labelFont": "Liberation Serif", "labelFontSize": 17, "labelFontWeight": "bold", "labelColor": "black", "symbolSize": 200, "symbolStrokeWidth": 1.3, "rowPadding": 2, "labelOffset": 15, "labelExpr": "'sample ' + datum.label"}},
    "fill": {"field": "s", "type": "nominal", "scale": {"domain": [1, 2, 3], "range": ["#ffffff", "#000000", "#0000ff"]}, "legend": {"orient": "none", "legendX": 228, "legendY": 0, "title": null, "labelFont": "Liberation Serif", "labelFontSize": 17, "labelFontWeight": "bold", "labelColor": "black", "symbolSize": 200, "symbolStrokeWidth": 1.3, "rowPadding": 2, "labelOffset": 15, "labelExpr": "'sample ' + datum.label"}},
    "stroke": {"field": "s", "type": "nominal", "scale": {"domain": [1, 2, 3], "range": ["#000000", "#000000", "#0000ff"]}, "legend": {"orient": "none", "legendX": 228, "legendY": 0, "title": null, "labelFont": "Liberation Serif", "labelFontSize": 17, "labelFontWeight": "bold", "labelColor": "black", "symbolSize": 200, "symbolStrokeWidth": 1.3, "rowPadding": 2, "labelOffset": 15, "labelExpr": "'sample ' + datum.label"}}
   }},
  {"data": {"values": [{"f": 17.0, "v": 9.5, "t": "ε'"}, {"f": 17.2, "v": 5.5, "t": "ε''"}]},
   "mark": {"type": "text", "fontSize": 20},
   "encoding": {"x": {"field": "f", "type": "quantitative"}, "y": {"field": "v", "type": "quantitative"}, "text": {"field": "t"}}},
  {"data": {"values": [{"f": 3.1, "v": 1.93, "t": "(a)"}]},
   "mark": {"type": "text", "fontSize": 18},
   "encoding": {"x": {"field": "f", "type": "quantitative"}, "y": {"field": "v", "type": "quantitative"}, "text": {"field": "t"}}}
 ]
},
{
 "width": 369, "height": 112,
 "view": {"stroke": null},
 "data": {"name": "b1"},
 "layer": [
  {"mark": {"type": "point", "filled": true, "size": 40, "strokeWidth": 0.8, "opacity": 1},
   "encoding": {
    "x": {"field": "f", "type": "quantitative", "scale": {"domain": [2, 18], "nice": false}, "axis": null},
    "y": {"field": "v", "type": "quantitative", "scale": {"domain": [0.885, 1.4], "nice": false, "zero": false}, "axis": {"values": [1.0, 1.1, 1.2, 1.3, 1.4], "format": ".1f", "labelExpr": "datum.value == 1.1 || datum.value == 1.3 ? '' : datum.label", "domain": false, "labelOverlap": false, "tickSize": {"condition": {"test": "datum.value == 1.1 || datum.value == 1.3", "value": 2.5}, "value": 4}, "labelPadding": 1, "title": "Complex permeability", "titleFontSize": 21, "titleX": -19, "titleY": 87}},
    "shape": {"field": "s", "type": "nominal", "scale": {"domain": [1, 2, 3], "range": ["circle", "circle", "triangle-up"]}, "legend": null},
    "fill": {"field": "s", "type": "nominal", "scale": {"domain": [1, 2, 3], "range": ["#ffffff", "#000000", "#0000ff"]}, "legend": null},
    "stroke": {"field": "s", "type": "nominal", "scale": {"domain": [1, 2, 3], "range": ["#000000", "#000000", "#0000ff"]}, "legend": null}
   }},
  {"mark": {"type": "rule", "strokeWidth": 2, "color": "black"}, "encoding": {"x": {"datum": 2}}},
  {"mark": {"type": "rule", "strokeWidth": 2, "color": "black"}, "encoding": {"x": {"datum": 18}}},
  {"data": {"values": [{"f": 16.8, "v": 1.18, "t": "μ'"}]},
   "mark": {"type": "text", "fontSize": 20},
   "encoding": {"x": {"field": "f", "type": "quantitative"}, "y": {"field": "v", "type": "quantitative"}, "text": {"field": "t"}}}
 ]
},
{
 "width": 369, "height": 108,
 "view": {"stroke": null},
 "data": {"name": "b2"},
 "layer": [
  {"mark": {"type": "point", "filled": true, "size": 40, "strokeWidth": 0.8, "opacity": 1},
   "encoding": {
    "x": {"field": "f", "type": "quantitative", "scale": {"domain": [2, 18], "nice": false}, "axis": {"values": [2,3,4,5,6,7,8,9,10,11,12,13,14,15,16,17,18], "labels": false, "title": null, "domain": false, "tickSize": {"condition": {"test": "datum.value % 2 == 0", "value": -6}, "value": -3}}},
    "y": {"field": "v", "type": "quantitative", "scale": {"domain": [0, 0.203], "nice": false}, "axis": {"values": [0, 0.1], "format": ".1f", "domain": false, "labelOverlap": false, "tickSize": 4, "labelPadding": 1, "title": null}},
    "shape": {"field": "s", "type": "nominal", "scale": {"domain": [1, 2, 3], "range": ["circle", "circle", "triangle-up"]}, "legend": null},
    "fill": {"field": "s", "type": "nominal", "scale": {"domain": [1, 2, 3], "range": ["#ffffff", "#000000", "#0000ff"]}, "legend": null},
    "stroke": {"field": "s", "type": "nominal", "scale": {"domain": [1, 2, 3], "range": ["#000000", "#000000", "#0000ff"]}, "legend": null}
   }},
  {"mark": {"type": "rule", "strokeWidth": 2, "color": "black"}, "encoding": {"x": {"datum": 2}}},
  {"mark": {"type": "rule", "strokeWidth": 2, "color": "black"}, "encoding": {"x": {"datum": 18}}},
  {"data": {"values": [{"f": 2, "v": 0.203}, {"f": 18, "v": 0.203}]},
   "mark": {"type": "text", "text": "=", "fontSize": 16, "angle": 330, "baseline": "middle"},
   "encoding": {"x": {"field": "f", "type": "quantitative"}, "y": {"field": "v", "type": "quantitative"}}},
  {"data": {"values": [{"f": 17.0, "v": 0.094, "t": "μ''"}]},
   "mark": {"type": "text", "fontSize": 20},
   "encoding": {"x": {"field": "f", "type": "quantitative"}, "y": {"field": "v", "type": "quantitative"}, "text": {"field": "t"}}},
  {"data": {"values": [{"f": 3.1, "v": 0.034, "t": "(b)"}]},
   "mark": {"type": "text", "fontSize": 18},
   "encoding": {"x": {"field": "f", "type": "quantitative"}, "y": {"field": "v", "type": "quantitative"}, "text": {"field": "t"}}}
 ]
},
{
 "width": 369, "height": 222,
 "data": {"name": "c"},
 "layer": [
  {"mark": {"type": "point", "filled": true, "size": 40, "strokeWidth": 0.8, "opacity": 1},
   "encoding": {
    "x": {"field": "f", "type": "quantitative", "scale": {"domain": [2, 18], "nice": false}, "axis": {"values": [2,3,4,5,6,7,8,9,10,11,12,13,14,15,16,17,18], "labelExpr": "datum.value % 2 == 0 ? datum.label : ''", "labelFontSize": 17, "labelPadding": 3, "domain": false, "tickSize": {"condition": {"test": "datum.value % 2 == 0", "value": -6}, "value": -3}, "title": "f (GHz)", "titleFontSize": 19, "titlePadding": 2, "titleX": 200}},
    "y": {"field": "v", "type": "quantitative", "scale": {"domain": [0.03, 0.49], "nice": false, "zero": false}, "axis": {"values": [0.1, 0.2, 0.3, 0.4], "format": ".1f", "domain": false, "labelOverlap": false, "tickSize": 4, "labelPadding": 1, "title": "Loss factor (a.u.)", "titleFontSize": 17, "titlePadding": 3}},
    "shape": {"field": "s", "type": "nominal", "scale": {"domain": [1, 2, 3], "range": ["circle", "circle", "triangle-up"]}, "legend": null},
    "fill": {"field": "s", "type": "nominal", "scale": {"domain": [1, 2, 3], "range": ["#ffffff", "#000000", "#0000ff"]}, "legend": null},
    "stroke": {"field": "s", "type": "nominal", "scale": {"domain": [1, 2, 3], "range": ["#000000", "#000000", "#0000ff"]}, "legend": null}
   }},
  {"data": {"values": [{"f": 11.44, "v": 0.438, "t": "Dielectric"}, {"f": 11.7, "v": 0.132, "t": "Magnetic"}]},
   "mark": {"type": "text", "fontSize": 16},
   "encoding": {"x": {"field": "f", "type": "quantitative"}, "y": {"field": "v", "type": "quantitative"}, "text": {"field": "t"}}},
  {"data": {"values": [{"f": 3.1, "v": 0.07, "t": "(c)"}]},
   "mark": {"type": "text", "fontSize": 18},
   "encoding": {"x": {"field": "f", "type": "quantitative"}, "y": {"field": "v", "type": "quantitative"}, "text": {"field": "t"}}}
 ]
}
]
}
